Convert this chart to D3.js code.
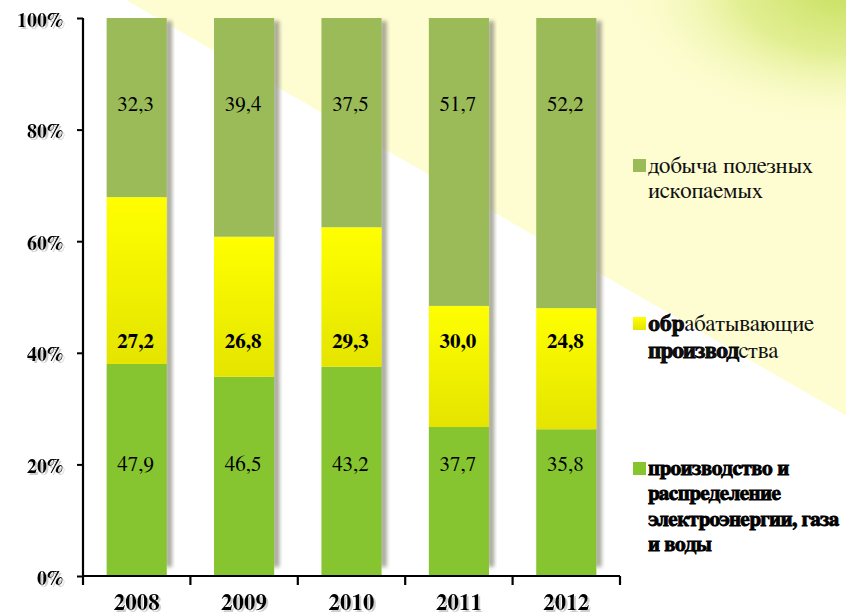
<!DOCTYPE html>
<html>
<head>
<meta charset="utf-8">
<script src="https://cdn.jsdelivr.net/npm/d3@7/dist/d3.min.js"></script>
<style>
  html, body { margin: 0; padding: 0; background: #fff; }
  svg { display: block; }
</style>
</head>
<body>
<svg id="chart" width="846" height="614"></svg>
<script>
// ---------- data ----------
const years = ["2008", "2009", "2010", "2011", "2012"];
// bar shares (percent of column)
const shareEnergy        = [38.0, 35.7, 37.5, 26.7, 26.3];
const shareManufacturing = [29.9, 25.1, 25.0, 21.7, 21.7];
const shareMining        = [32.1, 39.2, 37.5, 51.6, 52.0];
// printed data labels
const labelEnergy        = ["47,9", "46,5", "43,2", "37,7", "35,8"];
const labelManufacturing = ["27,2", "26,8", "29,3", "30,0", "24,8"];
const labelMining        = ["32,3", "39,4", "37,5", "51,7", "52,2"];
const yTicks = [0, 20, 40, 60, 80, 100];

// ---------- setup ----------
const W = 846, H = 614;
const SERIF = '"FreeSerif", "Times New Roman", "Times", serif';
const svg = d3.select("#chart");
const defs = svg.append("defs");

const x = d3.scaleBand().domain(years).range([83, 620]).paddingInner(0.44).paddingOuter(0.22);
const y = d3.scaleLinear().domain([0, 100]).range([576, 18]);

// background
svg.append("rect").attr("width", W).attr("height", H).attr("fill", "#ffffff");
const p0 = [126, 0], slope = 0.577;
svg.append("polygon")
  .attr("points", [[p0[0], 0], [W, 0], [W, slope * (W - p0[0])]].map(p => p.join(",")).join(" "))
  .attr("fill", "#FEFDD2");
const cg = defs.append("radialGradient").attr("id", "corner")
  .attr("gradientUnits", "userSpaceOnUse").attr("cx", 846).attr("cy", -10).attr("r", 190)
  .attr("gradientTransform", "translate(846,-10) scale(1.25,0.75) translate(-846,10)");
cg.append("stop").attr("offset", "0").attr("stop-color", "#c6df5e");
cg.append("stop").attr("offset", "0.45").attr("stop-color", "#dbeb82").attr("stop-opacity", 0.8);
cg.append("stop").attr("offset", "1").attr("stop-color", "#FEFDD2").attr("stop-opacity", 0);
svg.append("rect").attr("x", 560).attr("y", 0).attr("width", 286).attr("height", 200).attr("fill", "url(#corner)");

// filters
const blur = defs.append("filter").attr("id", "blur").attr("x", "-50%").attr("width", "200%");
blur.append("feGaussianBlur").attr("stdDeviation", 2.2);
const ts = defs.append("filter").attr("id", "tshadow");
ts.append("feOffset").attr("in", "SourceAlpha").attr("dx", 1.5).attr("dy", 1.5).attr("result", "o");
ts.append("feColorMatrix").attr("in", "o").attr("type", "matrix")
  .attr("values", "0 0 0 0 0.55 0 0 0 0 0.55 0 0 0 0 0.55 0 0 0 0.8 0").attr("result", "s");
const tm = ts.append("feMerge");
tm.append("feMergeNode").attr("in", "s");
tm.append("feMergeNode").attr("in", "SourceGraphic");

// yellow gradient
const yg = defs.append("linearGradient").attr("id", "yel").attr("x1", 0).attr("y1", 0).attr("x2", 0).attr("y2", 1);
yg.append("stop").attr("offset", "0").attr("stop-color", "#FFFF00");
yg.append("stop").attr("offset", "1").attr("stop-color", "#E4E400");

// stacked data
const rows = years.map((yr, i) => ({ year: yr, energy: shareEnergy[i], manuf: shareManufacturing[i], mining: shareMining[i] }));
const stack = d3.stack().keys(["energy", "manuf", "mining"])(rows);
const fills = { energy: "#86C530", manuf: "url(#yel)", mining: "#9BBB59" };

// shadows
svg.append("g").selectAll("rect").data(rows).join("rect")
  .attr("x", d => x(d.year) + x.bandwidth() - 1)
  .attr("y", y(100) + 3)
  .attr("width", 6)
  .attr("height", y(0) - y(100) - 12)
  .attr("fill", "#8f8f80")
  .attr("opacity", 0.85)
  .attr("filter", "url(#blur)");

// bars
svg.append("g").selectAll("g").data(stack).join("g")
  .attr("fill", s => fills[s.key])
  .selectAll("rect").data(s => s).join("rect")
  .attr("x", d => x(d.data.year))
  .attr("y", d => y(d[1]))
  .attr("width", x.bandwidth())
  .attr("height", d => y(d[0]) - y(d[1]));

// data labels
const labelSets = [
  { labels: labelEnergy, at: 20, weight: "normal" },
  { labels: labelManufacturing, at: 42, weight: "bold" },
  { labels: labelMining, at: 84.5, weight: "normal" }
];
labelSets.forEach(ls => {
  svg.append("g").selectAll("text").data(years).join("text")
    .style("font-family", SERIF)
    .attr("x", d => x(d) + x.bandwidth() / 2 - 1)
    .attr("y", y(ls.at))
    .attr("text-anchor", "middle")
    .attr("dominant-baseline", "central")
    .attr("font-size", 21)
    .attr("font-weight", ls.weight)
    .attr("fill", "#000")
    .text((d, i) => ls.labels[i]);
});

// y axis
const yAxis = svg.append("g").attr("transform", "translate(83,0)")
  .call(d3.axisLeft(y).tickValues(yTicks).tickFormat(d => d + "%").tickSize(6).tickPadding(14));
yAxis.attr("font-family", null).style("font-family", SERIF);
yAxis.select(".domain").attr("stroke", "#000").attr("stroke-width", 2.2).attr("d", `M0,${y(100)}V${y(0)}`);
yAxis.selectAll(".tick line").attr("stroke", "#000").attr("stroke-width", 2);
yAxis.selectAll(".tick text")
  .style("font-family", SERIF)
  .attr("font-size", 20).attr("font-weight", "bold").attr("fill", "#000")
  .attr("dy", "0.4em").attr("filter", "url(#tshadow)");

// x axis
const xa = svg.append("g");
xa.append("line").attr("x1", 82).attr("x2", 620).attr("y1", y(0)).attr("y2", y(0))
  .attr("stroke", "#000").attr("stroke-width", 2.2);
const step = x.step();
const bounds = years.map(d => x(d) - step * 0.22).concat([x(years[4]) + x.bandwidth() + step * 0.22]);
xa.selectAll("line.t").data(bounds).join("line").attr("class", "t")
  .attr("x1", d => d).attr("x2", d => d).attr("y1", y(0)).attr("y2", y(0) + 9)
  .attr("stroke", "#000").attr("stroke-width", 2.2);
xa.selectAll("text").data(years).join("text")
  .style("font-family", SERIF)
  .attr("x", d => x(d) + x.bandwidth() / 2)
  .attr("y", 610)
  .attr("text-anchor", "middle")
  .attr("font-size", 23).attr("font-weight", "bold").attr("fill", "#000")
  .attr("filter", "url(#tshadow)")
  .text(d => d);

// legend
const legendColors = ["#9BBB59", "url(#yel)", "#86C530"];
const lg = svg.append("g");
const legendTop = [166, 324, 468];
// item 1
lg.append("rect").attr("x", 633).attr("y", legendTop[0] - 7).attr("width", 13).attr("height", 13).attr("fill", legendColors[0]);
const t1 = lg.append("text").style("font-family", SERIF).attr("font-size", 23).attr("fill", "#111");
t1.append("tspan").attr("x", 648).attr("y", legendTop[0]).attr("dominant-baseline", "central").text("добыча полезных");
t1.append("tspan").attr("x", 648).attr("y", legendTop[0] + 25).attr("dominant-baseline", "central").text("ископаемых");
// item 2
lg.append("rect").attr("x", 633).attr("y", legendTop[1] - 7).attr("width", 13).attr("height", 13).attr("fill", legendColors[1]);
const t2 = lg.append("text").style("font-family", SERIF).attr("font-size", 23).attr("fill", "#111");
const l21 = t2.append("tspan").attr("x", 648).attr("y", legendTop[1]).attr("dominant-baseline", "central");
l21.append("tspan").attr("font-weight", "bold").attr("stroke", "#000").attr("stroke-width", 0.9).text("обр");
l21.append("tspan").text("абатывающие");
const t2b = lg.append("text").style("font-family", SERIF).attr("font-size", 23).attr("fill", "#111");
const l22 = t2b.append("tspan").attr("x", 648).attr("y", legendTop[1] + 27).attr("dominant-baseline", "central");
l22.append("tspan").attr("font-weight", "bold").attr("stroke", "#000").attr("stroke-width", 0.9).attr("letter-spacing", -0.8).text("производ");
l22.append("tspan").text("ства");
// item 3
lg.append("rect").attr("x", 633).attr("y", legendTop[2] - 6).attr("width", 13).attr("height", 13).attr("fill", legendColors[2]);
const lines3 = ["производство и", "распределение", "электроэнергии, газа", "и воды"];
const t3 = lg.append("text").style("font-family", SERIF).attr("font-size", 21).attr("font-weight", "bold")
  .attr("fill", "#000").attr("stroke", "#000").attr("stroke-width", 0.9).attr("letter-spacing", -0.5);
lines3.forEach((ln, i) => {
  t3.append("tspan").attr("x", 648).attr("y", legendTop[2] + i * 25.5).attr("dominant-baseline", "central").text(ln);
});
</script>
</body>
</html>
